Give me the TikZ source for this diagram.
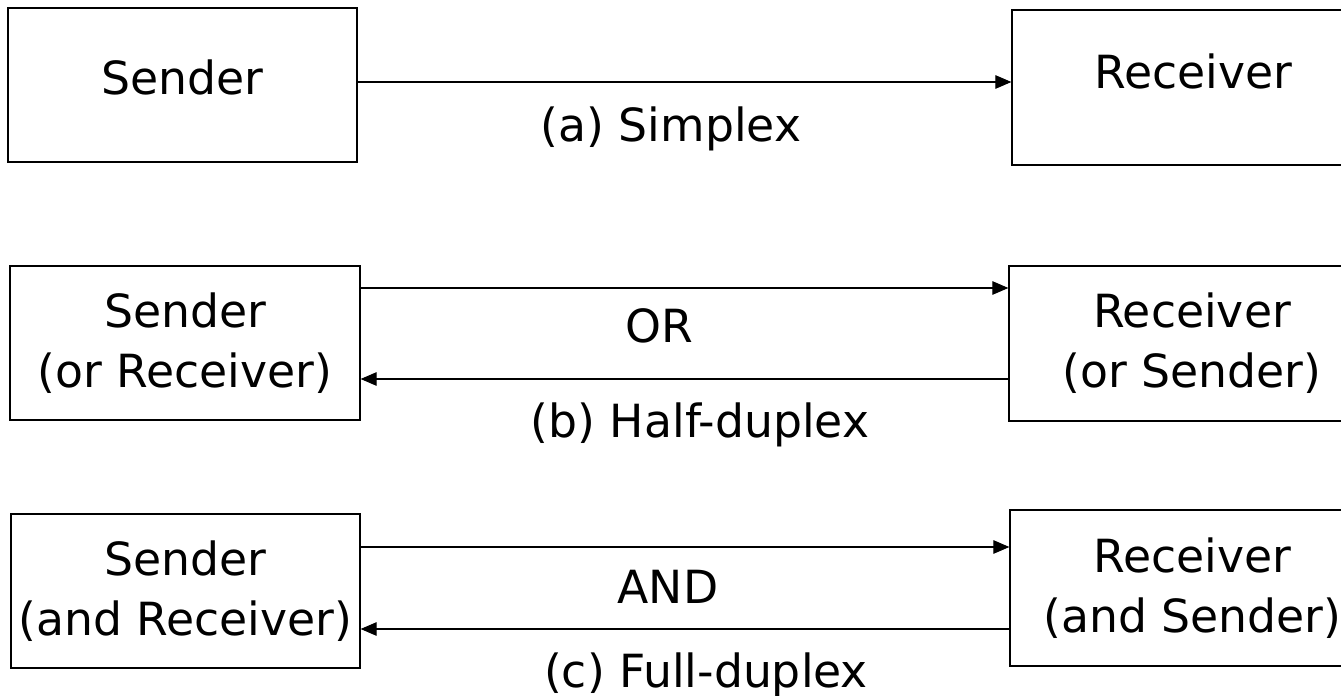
\documentclass[tikz,border=0pt]{standalone}
\usepackage{fontspec}
\setmainfont{DejaVu Sans}
\usetikzlibrary{arrows.meta}

\begin{document}
\begin{tikzpicture}[
    station/.style ={rectangle, draw, line width=0.7pt, align=center,
                     inner sep=0pt, font=\fontsize{26}{34}\selectfont},
    link/.style ={line width=0.6pt, -{Triangle[length=0.32cm,width=0.27cm]}},
    caption/.style ={anchor=base, inner sep=0pt, font=\fontsize{26}{34}\selectfont}]
   \useasboundingbox (0,0) rectangle (26.82,-13.92);

   % (a) simplex
   \node[station, minimum width=6.98cm, minimum height=3.08cm, text depth=0.3cm] (sa) at (3.65,-1.7) {Sender};
   \node[station, minimum width=7.26cm, minimum height=3.1cm, text depth=0.64cm] (ra) at (23.87,-1.75) {Receiver};
   \node[caption] (simplex) at (13.42,-2.84) {(a) Simplex};

   \draw[link] ([yshift=0.06cm]sa.east) to ([yshift=0.06cm]sa.east -| ra.west);

   % (b) half-duplex
   \node[station, minimum width=7cm, minimum height=3.08cm] (sb) at (3.7,-6.86) {Sender\\(or Receiver)};
   \node[station, minimum width=7.32cm, minimum height=3.1cm] (rb) at (23.84,-6.87) {Receiver\\(or Sender)};
   \node[caption] (or) at (13.19,-6.84) {OR};
   \node[caption] (half) at (14.0,-8.74) {(b) Half-duplex};

   \draw[link] ([yshift=1.1cm]sb.east) to ([yshift=1.1cm]sb.east -| rb.west);
   \draw[link] ([yshift=-0.72cm]sb.east -| rb.west) to ([yshift=-0.72cm]sb.east);

   % (c) full-duplex
   \node[station, minimum width=6.98cm, minimum height=3.08cm] (sc) at (3.71,-11.82) {Sender\\(and Receiver)};
   \node[station, minimum width=7.3cm, minimum height=3.12cm] (rc) at (23.85,-11.76) {Receiver\\(and Sender)};
   \node[caption] (and) at (13.36,-12.06) {AND};
   \node[caption] (full) at (14.12,-13.74) {(c) Full-duplex};

   \draw[link] ([yshift=0.88cm]sc.east) to ([yshift=0.88cm]sc.east -| rc.west);
   \draw[link] ([yshift=-0.76cm]sc.east -| rc.west) to ([yshift=-0.76cm]sc.east);
\end{tikzpicture}
\end{document}
